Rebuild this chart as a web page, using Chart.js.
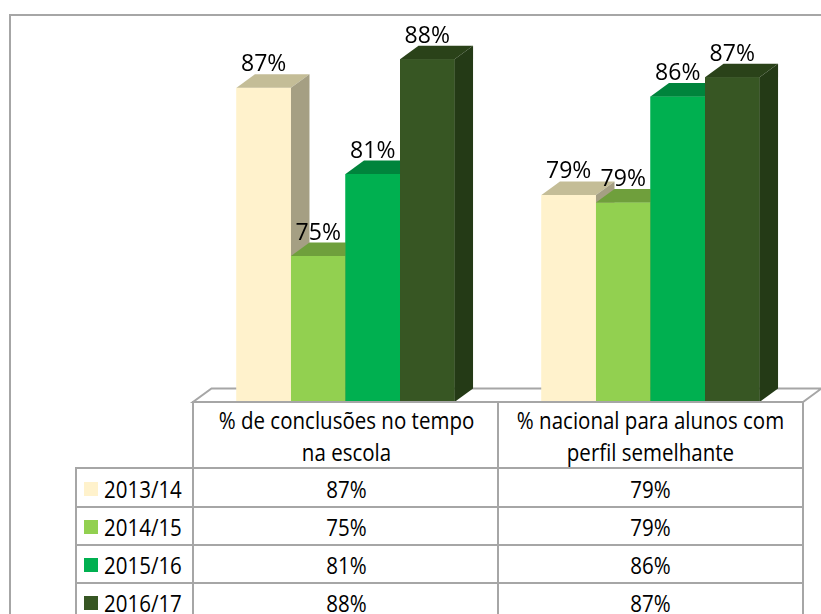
<!DOCTYPE html>
<html>
<head>
<meta charset="utf-8">
<script src="https://cdn.jsdelivr.net/npm/chart.js@4.4.1/dist/chart.umd.min.js"></script>
<style>
  body { margin: 0; background: #fff; }
  #wrap { position: relative; width: 821px; height: 614px; overflow: hidden; font-family: "Open Sans", sans-serif; }
  #frame { position: absolute; left: 9px; top: 14px; width: 900px; height: 700px; border: 2px solid #a6a6a6; }
  #c { position: absolute; left: 0; top: 0; }
  .cell { position: absolute; box-sizing: border-box; border-left: 2px solid #a6a6a6; border-top: 2px solid #a6a6a6;
          color: #000; font-size: 20.5px; display: flex; align-items: center; justify-content: center; text-align: center; background: #fff; }
  .cell > span.t { display: inline-block; transform: scaleY(1.18); }
  .hdr { line-height: 27px; }
  .leg { justify-content: flex-start; padding-left: 7px; }
  .sw { display: inline-block; width: 14px; height: 14px; margin-right: 6px; }
</style>
</head>
<body>
<div id="wrap">
  <div id="frame"></div>
  <canvas id="c" width="821" height="614"></canvas>
  <div id="tbl"></div>
</div>
<script>
// categories (header lines) and series
const categoryLines = [
    ['% de conclusões no tempo', 'na escola'],
    ['% nacional para alunos com', 'perfil semelhante']
];
const seriesLabels = ['2013/14', '2014/15', '2015/16', '2016/17'];

// values per series, one per category
const values1314 = [86.5, 79.3];
const values1415 = [75.2, 78.8];
const values1516 = [80.7, 85.9];
const values1617 = [88.4, 87.2];
const seriesValues = [values1314, values1415, values1516, values1617];

const frontColors = ['#FFF2CC', '#92D050', '#00B050', '#375623'];
const topColors = ['#C4BD97', '#6F9F3C', '#00843C', '#2A4219'];
const sideColors = ['#A59F83', '#5E8A30', '#006F33', '#243A16'];

const Y_MIN = 65.4, Y_MAX = 89.7;
const DX = 18.5, DY = 13.5;

const pct = v => Math.round(v) + '%';

const bars3d = {
    id: 'bars3d',
    beforeDatasetsDraw(chart) {
        const ctx = chart.ctx;
        const a = chart.chartArea;
        ctx.save();
        ctx.beginPath();
        ctx.moveTo(a.left, a.bottom);
        ctx.lineTo(a.right, a.bottom);
        ctx.lineTo(a.right + DX, a.bottom - DY);
        ctx.lineTo(a.left + DX, a.bottom - DY);
        ctx.closePath();
        ctx.fillStyle = '#fff';
        ctx.fill();
        ctx.strokeStyle = '#a6a6a6';
        ctx.lineWidth = 2;
        ctx.stroke();
        ctx.restore();
    },
    afterDatasetsDraw(chart) {
        const ctx = chart.ctx;
        ctx.save();
        seriesValues.forEach((vals, i) => {
            chart.getDatasetMeta(i).data.forEach(bar => {
                bar.draw(ctx);
                const p = bar.getProps(['x', 'y', 'base', 'width'], true);
                const l = p.x - p.width / 2, r = p.x + p.width / 2;
                ctx.fillStyle = topColors[i];
                ctx.beginPath();
                ctx.moveTo(l, p.y);
                ctx.lineTo(r, p.y);
                ctx.lineTo(r + DX, p.y - DY);
                ctx.lineTo(l + DX, p.y - DY);
                ctx.closePath();
                ctx.fill();
                ctx.fillStyle = sideColors[i];
                ctx.beginPath();
                ctx.moveTo(r, p.y);
                ctx.lineTo(r + DX, p.y - DY);
                ctx.lineTo(r + DX, p.base - DY);
                ctx.lineTo(r, p.base);
                ctx.closePath();
                ctx.fill();
            });
        });
        ctx.fillStyle = '#000';
        ctx.font = '23px "Open Sans"';
        ctx.textAlign = 'center';
        ctx.textBaseline = 'alphabetic';
        seriesValues.forEach((vals, i) => {
            chart.getDatasetMeta(i).data.forEach((bar, j) => {
                const p = bar.getProps(['x', 'y'], true);
                ctx.fillText(pct(vals[j]), p.x, p.y - DY - 3);
            });
        });
        ctx.restore();
    }
};

new Chart(document.getElementById('c'), {
    type: 'bar',
    data: {
        labels: categoryLines.map(l => l.join(' ')),
        datasets: seriesValues.map((vals, i) => ({
            label: seriesLabels[i],
            data: vals,
            base: Y_MIN,
            backgroundColor: frontColors[i],
            borderWidth: 0,
            barPercentage: 1,
            categoryPercentage: 0.715
        }))
    },
    options: {
        responsive: false,
        animation: false,
        layout: { padding: { left: 193, right: 18, top: 40, bottom: 212 } },
        scales: {
            x: { display: false },
            y: { display: false, min: Y_MIN, max: Y_MAX }
        },
        plugins: { legend: { display: false }, tooltip: { enabled: false } }
    },
    plugins: [bars3d]
});

// data table under the bars
const colX = [75, 192, 497, 802];
const rowY = [401, 467, 506, 544, 582, 620];
const tbl = document.getElementById('tbl');
function cell(x0, x1, y0, y1, html, cls) {
    const d = document.createElement('div');
    d.className = 'cell ' + (cls || '');
    d.style.left = x0 + 'px';
    d.style.top = y0 + 'px';
    d.style.width = (x1 - x0 + 2) + 'px';
    d.style.height = (y1 - y0 + 2) + 'px';
    d.innerHTML = html;
    tbl.appendChild(d);
    return d;
}
categoryLines.forEach((lines, j) => {
    const d = cell(colX[j + 1], colX[j + 2], rowY[0], rowY[1], '<span class="t">' + lines.join('<br>') + '</span>', 'hdr');
    if (j === 1) d.style.borderRight = '2px solid #a6a6a6';
});
seriesLabels.forEach((lab, i) => {
    cell(colX[0], colX[1], rowY[i + 1], rowY[i + 2],
        '<span class="sw" style="background:' + frontColors[i] + '"></span><span class="t">' + lab + '</span>', 'leg');
    seriesValues[i].forEach((v, j) => {
        const d = cell(colX[j + 1], colX[j + 2], rowY[i + 1], rowY[i + 2], '<span class="t">' + pct(v) + '</span>');
        if (j === 1) d.style.borderRight = '2px solid #a6a6a6';
    });
});
</script>
</body>
</html>
